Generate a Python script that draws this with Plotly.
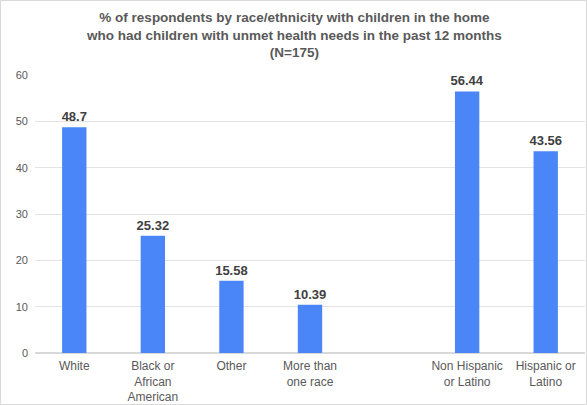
import plotly.graph_objects as go

categories = ["White", "Black or<br>African<br>American", "Other", "More than<br>one race", " ",
              "Non Hispanic<br>or Latino", "Hispanic or<br>Latino"]
values = [48.7, 25.32, 15.58, 10.39, None, 56.44, 43.56]
labels = ["<b>48.7</b>", "<b>25.32</b>", "<b>15.58</b>", "<b>10.39</b>", "", "<b>56.44</b>", "<b>43.56</b>"]

L, R, T, B = 35, 2, 75, 52
W, H = 587, 405
PW, PH = W - L - R, H - T - B

fig = go.Figure(go.Bar(
    x=categories, y=values, text=labels, textposition="outside",
    constraintext="none",
    marker=dict(color="#4a86f7", line=dict(width=0)),
    textfont=dict(family="Liberation Sans, Arial", size=13, color="#404040"),
    cliponaxis=False,
))

fig.update_layout(
    width=W, height=H,
    margin=dict(l=L, r=R, t=T, b=B),
    paper_bgcolor="white", plot_bgcolor="white",
    bargap=0.69,
    showlegend=False,
    font=dict(family="Liberation Sans, Arial", size=12, color="#595959"),
    xaxis=dict(type="category", showgrid=False, showline=False, ticks="",
               automargin=False, ticklabelstandoff=4,
               tickfont=dict(size=12, color="#595959")),
    yaxis=dict(range=[0, 60], dtick=10, showgrid=True, gridcolor="#e3e3e3",
               zeroline=True, zerolinecolor="#d9d9d9", showline=False, ticks="",
               automargin=False, ticklabelstandoff=6,
               tickfont=dict(size=11, color="#595959")),
)

fig.add_annotation(
    text="<b>% of respondents by race/ethnicity with children in the home<br>who had children with unmet health needs in the past 12 months<br>(N=175)</b>",
    xref="paper", yref="paper", x=(W / 2 - L) / PW,
    y=(PH + T - 8) / PH, xanchor="center", yanchor="top", showarrow=False,
    font=dict(family="Liberation Sans, Arial", size=13.5, color="#595959"),
)

fig.add_shape(type="rect", xref="paper", yref="paper",
              x0=-(L - 0.5) / PW, x1=(W - 0.5 - L) / PW,
              y0=-(B - 0.5) / PH, y1=(PH + T - 0.5) / PH,
              line=dict(color="#d9d9d9", width=1), fillcolor="rgba(0,0,0,0)", layer="below")

fig.write_html("out.html", config={"displayModeBar": False},
               post_script="document.body.style.margin='0';document.body.style.overflow='hidden';")
